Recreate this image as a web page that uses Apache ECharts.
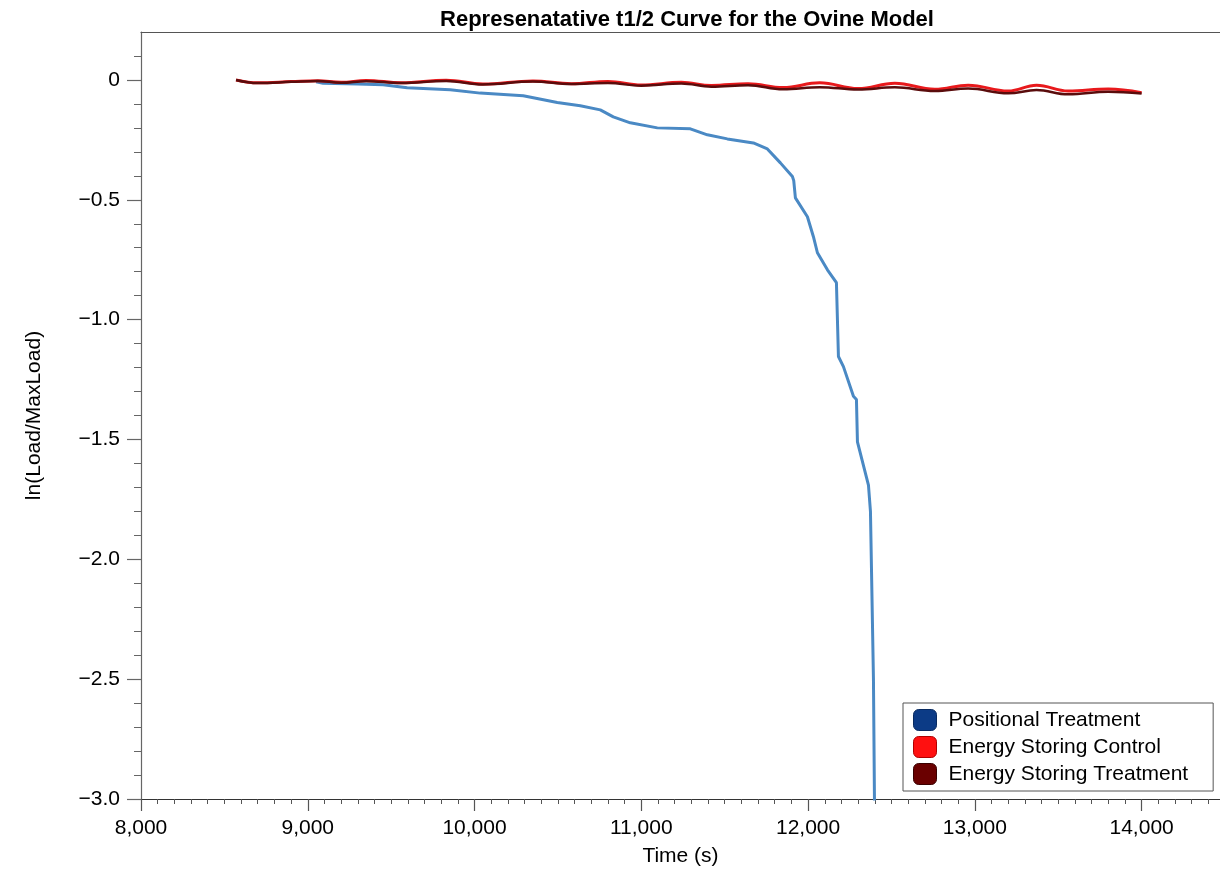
<!DOCTYPE html>
<html>
<head>
<meta charset="utf-8">
<script src="https://cdn.jsdelivr.net/npm/echarts@6/dist/echarts.min.js"></script>
<style>
html,body{margin:0;padding:0;background:#fff;}
#chart{width:1220px;height:875px;}
</style>
</head>
<body>
<div id="chart"></div>
<script>
const seriesNames = ['Positional Treatment', 'Energy Storing Control', 'Energy Storing Treatment'];

const positionalTime = [9050, 9092, 9300, 9452, 9596, 9854, 10034, 10292, 10496, 10634, 10754, 10832, 10934, 11096, 11294, 11396, 11516, 11672, 11756, 11834, 11906, 11914, 11924, 11996, 12032, 12056, 12116, 12170, 12182, 12212, 12272, 12290, 12296, 12362, 12374, 12392, 12398, 12400];
const positionalValue = [-0.008, -0.014, -0.017, -0.020, -0.033, -0.041, -0.055, -0.066, -0.094, -0.108, -0.125, -0.154, -0.179, -0.200, -0.204, -0.229, -0.246, -0.263, -0.288, -0.346, -0.403, -0.420, -0.492, -0.571, -0.654, -0.721, -0.792, -0.846, -1.154, -1.196, -1.320, -1.333, -1.510, -1.690, -1.800, -2.500, -3.000, -3.300];

const storingTime = [8570, 8700, 8900, 9060, 9200, 9350, 9560, 9830, 10050, 10350, 10580, 10800, 11000, 11240, 11420, 11640, 11850, 12070, 12300, 12520, 12760, 12960, 13200, 13370, 13560, 13800, 14000];
const controlValue = [0.000, -0.012, -0.007, -0.003, -0.010, -0.002, -0.012, -0.001, -0.017, -0.004, -0.016, -0.006, -0.021, -0.010, -0.023, -0.016, -0.032, -0.012, -0.036, -0.014, -0.039, -0.022, -0.046, -0.022, -0.046, -0.038, -0.053];
const treatmentValue = [0.000, -0.013, -0.008, -0.004, -0.012, -0.005, -0.013, -0.004, -0.019, -0.007, -0.017, -0.013, -0.024, -0.015, -0.028, -0.022, -0.039, -0.030, -0.040, -0.031, -0.046, -0.036, -0.056, -0.042, -0.060, -0.049, -0.057];

const xTicks = [8000, 9000, 10000, 11000, 12000, 13000, 14000];
const yTicks = [-3.0, -2.5, -2.0, -1.5, -1.0, -0.5, 0];

function pairs(xs, ys) { return xs.map((x, i) => [x, ys[i]]); }

const FONT = "'Liberation Sans', Arial, Helvetica, sans-serif";
const FS = 21;
const chart = echarts.init(document.getElementById('chart'), null, {renderer: 'canvas'});

chart.setOption({
  backgroundColor: '#ffffff',
  animation: false,
  textStyle: {fontFamily: FONT},
  title: {
    text: 'Represenatative t1/2 Curve for the Ovine Model',
    left: 682,
    textAlign: 'center',
    top: 4,
    textStyle: {fontFamily: FONT, fontSize: 22, fontWeight: 'bold', color: '#000'}
  },
  legend: {
    orient: 'vertical',
    left: 903,
    top: 703,
    padding: [6, 25, 6, 10],
    itemGap: 5,
    itemWidth: 23,
    itemHeight: 21,
    icon: 'roundRect',
    backgroundColor: '#fff',
    borderColor: '#555',
    borderWidth: 1,
    borderRadius: 0,
    textStyle: {fontFamily: FONT, fontSize: FS, color: '#000', padding: [0, 0, 0, 7]},
    data: [
      {name: seriesNames[0], itemStyle: {color: '#0c3b86', borderColor: '#082a60', borderWidth: 1}},
      {name: seriesNames[1], itemStyle: {color: '#ff1010', borderColor: '#b00000', borderWidth: 1}},
      {name: seriesNames[2], itemStyle: {color: '#6a0000', borderColor: '#3a0000', borderWidth: 1}}
    ]
  },
  grid: {left: 141, right: 0, top: 32, bottom: 76, containLabel: false},
  xAxis: [{
    type: 'value',
    min: 8000,
    max: 14470,
    interval: 1000,
    name: 'Time (s)',
    nameLocation: 'middle',
    nameGap: 47,
    nameTextStyle: {fontFamily: FONT, fontSize: FS, color: '#000'},
    axisLine: {show: true, onZero: false, lineStyle: {color: '#333', width: 1.2}},
    axisTick: {show: true, inside: false, length: 12, customValues: xTicks, lineStyle: {color: '#555', width: 1.2}},
    minorTick: {show: true, splitNumber: 10, length: 5, lineStyle: {color: '#555', width: 1}},
    axisLabel: {
      customValues: xTicks,
      margin: 19,
      fontFamily: FONT, fontSize: FS, color: '#000',
      formatter: v => Number(v).toLocaleString('en-US')
    },
    splitLine: {show: false}
  }, {
    type: 'value',
    position: 'top',
    min: 8000,
    max: 14470,
    axisLine: {show: true, onZero: false, lineStyle: {color: '#555', width: 1.2}},
    axisTick: {show: false},
    axisLabel: {show: false},
    splitLine: {show: false}
  }],
  yAxis: {
    type: 'value',
    min: -3,
    max: 0.2,
    interval: 0.5,
    name: 'ln(Load/MaxLoad)',
    nameLocation: 'middle',
    nameGap: 96,
    nameTextStyle: {fontFamily: FONT, fontSize: FS, color: '#000'},
    axisLine: {show: true, onZero: false, lineStyle: {color: '#666', width: 1.2}},
    axisTick: {show: true, inside: false, length: 14, customValues: yTicks, lineStyle: {color: '#666', width: 1.2}},
    minorTick: {show: true, splitNumber: 5, length: 7, lineStyle: {color: '#666', width: 1}},
    axisLabel: {
      customValues: yTicks,
      margin: 21,
      fontFamily: FONT, fontSize: FS, color: '#000',
      formatter: v => (Math.abs(v) < 1e-9 ? '0' : Number(v).toFixed(1).replace('-', '\u2212'))
    },
    splitLine: {show: false}
  },
  series: [
    {
      name: seriesNames[0],
      type: 'line',
      xAxisIndex: 0,
      data: pairs(positionalTime, positionalValue),
      showSymbol: false,
      symbol: 'none',
      clip: true,
      itemStyle: {color: '#0c3b86'},
      lineStyle: {color: '#4a89c4', width: 3},
      z: 2
    },
    {
      name: seriesNames[1],
      type: 'line',
      xAxisIndex: 0,
      data: pairs(storingTime, controlValue),
      showSymbol: false,
      symbol: 'none',
      smooth: 0.4,
      itemStyle: {color: '#ff1010'},
      lineStyle: {color: '#e8191c', width: 3},
      z: 3
    },
    {
      name: seriesNames[2],
      type: 'line',
      xAxisIndex: 0,
      data: pairs(storingTime, treatmentValue),
      showSymbol: false,
      symbol: 'none',
      smooth: 0.4,
      itemStyle: {color: '#6a0000'},
      lineStyle: {color: '#5a0c0c', width: 2.5},
      z: 4
    }
  ]
});
</script>
</body>
</html>
